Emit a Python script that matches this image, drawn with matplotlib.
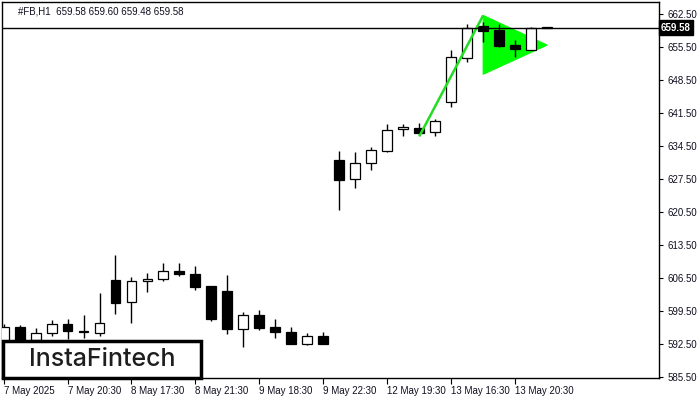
import matplotlib
matplotlib.use("Agg")
import matplotlib.pyplot as plt
from matplotlib.patches import Polygon, Rectangle

# ---------------------------------------------------------------------------
# Data (H1 candles)
# ---------------------------------------------------------------------------

opens = [593.0, 596.0, 593.2, 594.7, 596.7, 595.0, 594.7, 606.0, 601.3, 605.9,
         606.2, 607.9, 607.3, 604.7, 603.7, 595.6, 598.6, 596.1, 595.0, 592.5,
         594.2, 631.5, 627.5, 630.9, 633.4, 638.1, 638.4, 637.4, 643.9, 653.1,
         660.0, 659.1, 655.9, 654.9, 659.58]
highs = [596.6, 596.5, 595.8, 597.5, 597.8, 598.6, 603.3, 611.3, 606.7, 607.6,
         609.6, 609.6, 609.0, 604.8, 607.1, 599.2, 599.7, 597.8, 596.0, 594.7,
         595.0, 633.5, 633.3, 634.2, 639.2, 639.2, 639.3, 640.2, 654.8, 660.3,
         660.9, 660.4, 657.0, 659.8, 659.60]
lows = [591.5, 591.5, 592.5, 594.2, 593.5, 593.8, 594.2, 598.8, 596.9, 603.5,
        605.9, 606.9, 603.8, 597.4, 594.5, 591.9, 595.4, 593.8, 592.4, 592.3,
        592.5, 620.8, 625.5, 629.4, 633.2, 636.7, 637.0, 636.7, 642.7, 652.4,
        656.6, 655.6, 653.4, 654.9, 659.48]
closes = [596.0, 593.0, 594.7, 596.6, 595.1, 595.3, 596.9, 601.1, 605.8, 606.2,
          607.9, 607.2, 604.6, 597.8, 595.7, 598.5, 595.9, 595.0, 592.5, 594.1,
          592.5, 627.2, 630.9, 633.7, 637.9, 638.6, 637.3, 639.7, 653.3, 659.6,
          658.8, 655.7, 655.0, 659.5, 659.58]

last_price = 659.58

y_ticks = [662.50, 655.50, 648.50, 641.50, 634.50, 627.50, 620.50,
           613.50, 606.50, 599.50, 592.50, 585.50]
x_tick_pos = [0, 4, 8, 12, 16, 20, 24, 28, 32]
x_tick_labels = ["7 May 2025", "7 May 20:30", "8 May 17:30", "8 May 21:30",
                 "9 May 18:30", "9 May 22:30", "12 May 19:30", "13 May 16:30",
                 "13 May 20:30"]

# pennant: flagpole and triangle (bar index, price)
pole_x = [26, 30]
pole_y = [636.5, 662.2]
flag_x = [30, 30, 34]
flag_y = [662.2, 649.7, 655.9]

GREEN = "#00ff00"
TXT = "#101020"
FONT = "Liberation Sans"

# ---------------------------------------------------------------------------
# Figure
# ---------------------------------------------------------------------------

fig = plt.figure(figsize=(7, 4), dpi=100)
fig.patch.set_facecolor("white")
ax = fig.add_axes([2 / 700, 22 / 400, 657 / 700, 376 / 400])
ax.set_facecolor("white")

x = list(range(len(opens)))
width = 0.62

# pennant triangle under the candles
ax.add_patch(Polygon(list(zip(flag_x, flag_y)), closed=True, facecolor=GREEN,
                     edgecolor=GREEN, linewidth=0.8, zorder=1))
ax.plot(pole_x, pole_y, color="#22dd22", linewidth=1.8, zorder=4,
        solid_capstyle="butt")

# wicks
ax.vlines(x, lows, highs, color="black", linewidth=1, zorder=2)

# bodies
for i in x:
    o, c = opens[i], closes[i]
    bottom = min(o, c)
    h = max(abs(c - o), 0.25)
    fc = "white" if c >= o else "black"
    ax.bar(i, h, width, bottom=bottom, facecolor=fc, edgecolor="black",
           linewidth=0.9, zorder=3)

# last price line
ax.axhline(last_price, color="black", linewidth=1, zorder=5)

ax.set_xlim(-0.1, 41.0)
ax.set_ylim(585.22, 665.05)

ax.yaxis.tick_right()
ax.set_yticks(y_ticks)
ax.set_yticklabels([f"{v:.2f}" for v in y_ticks], fontsize=7, color=TXT,
                   family=FONT)
ax.tick_params(axis="y", length=3, width=0.8, pad=3)

ax.set_xticks(x_tick_pos)
ax.set_xticklabels(x_tick_labels, fontsize=7, color=TXT, ha="left",
                   family=FONT)
ax.tick_params(axis="x", length=4, width=0.8, pad=2)

for s in ax.spines.values():
    s.set_linewidth(1)
    s.set_color("black")

# current price label on the axis
ax.text(1.003, last_price, f"{last_price:.2f}", transform=ax.get_yaxis_transform(),
        ha="left", va="center", fontsize=7, color="white", fontweight="bold",
        family=FONT,
        bbox=dict(boxstyle="square,pad=0.25", facecolor="black", edgecolor="black"),
        zorder=10, clip_on=False)

# header text
fig.text(18 / 700, 1 - 11 / 400, "#FB,H1  659.58 659.60 659.48 659.58",
         fontsize=7, color=TXT, va="center", ha="left", family=FONT)

# logo box
fig.patches.append(Rectangle((3 / 700, 22 / 400), 198 / 700, 37 / 400,
                             transform=fig.transFigure, facecolor="white",
                             edgecolor="black", linewidth=2.5, zorder=20))
fig.text(102 / 700, 1 - 359 / 400, "InstaFintech", fontsize=18,
         family="Inter", fontweight="medium", color="#1e1e1e",
         ha="center", va="center", zorder=21)

fig.savefig("out.png", dpi=100, facecolor="white")
